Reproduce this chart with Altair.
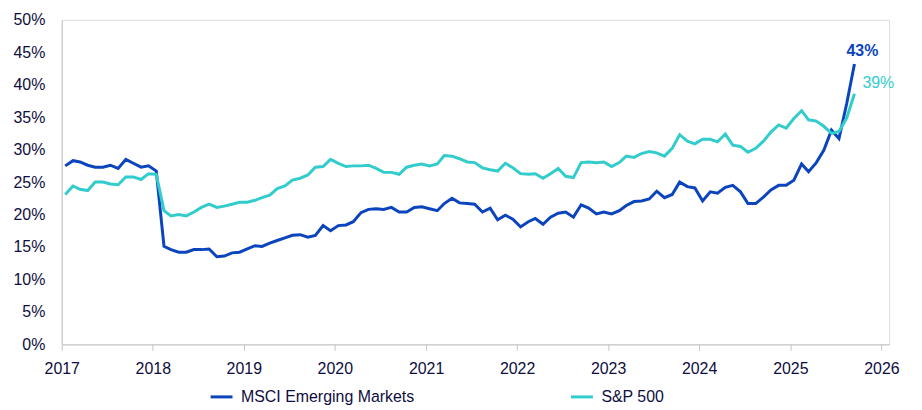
import altair as alt
import pandas as pd

# Monthly observations, Jan 2017 - Sep 2025 (mid-month)
months = [f"{2017 + i // 12}-{i % 12 + 1:02d}-15" for i in range(105)]

msci = [
    27.5, 28.3, 28.1, 27.6, 27.3, 27.3, 27.6, 27.1, 28.5, 27.9, 27.3, 27.5,
    26.7, 15.1, 14.6, 14.2, 14.2, 14.6, 14.6, 14.7, 13.5, 13.6, 14.1, 14.2,
    14.7, 15.2, 15.1, 15.6, 16.0, 16.4, 16.8, 16.9, 16.5, 16.8, 18.3, 17.5,
    18.3, 18.4, 18.9, 20.3, 20.8, 20.9, 20.8, 21.1, 20.4, 20.4, 21.1, 21.2,
    20.9, 20.6, 21.7, 22.5, 21.8, 21.7, 21.6, 20.4, 21.0, 19.2, 19.9, 19.3,
    18.1, 18.9, 19.4, 18.5, 19.6, 20.2, 20.4, 19.6, 21.5, 21.0, 20.1, 20.4,
    20.1, 20.6, 21.4, 22.0, 22.1, 22.4, 23.6, 22.6, 23.1, 25.0, 24.3, 24.1,
    22.1, 23.5, 23.3, 24.2, 24.5, 23.5, 21.7, 21.7, 22.7, 23.8, 24.5, 24.5,
    25.3, 27.8, 26.6, 28.0, 29.9, 33.0, 31.7, 37.1, 43.2,
]

spx = [
    23.1, 24.4, 23.9, 23.7, 25.0, 25.0, 24.7, 24.6, 25.8, 25.8, 25.4, 26.3,
    26.2, 20.6, 19.8, 20.0, 19.8, 20.4, 21.1, 21.6, 21.1, 21.3, 21.6, 21.9,
    21.9, 22.2, 22.6, 23.0, 24.0, 24.4, 25.3, 25.6, 26.1, 27.3, 27.4, 28.5,
    27.9, 27.4, 27.5, 27.5, 27.6, 27.1, 26.5, 26.5, 26.2, 27.3, 27.6, 27.8,
    27.5, 27.8, 29.1, 29.0, 28.6, 28.1, 28.0, 27.2, 26.9, 26.7, 27.9, 27.2,
    26.3, 26.2, 26.3, 25.6, 26.3, 27.1, 25.9, 25.7, 28.0, 28.1, 28.0, 28.1,
    27.4, 28.0, 29.0, 28.8, 29.4, 29.7, 29.5, 29.0, 30.2, 32.3, 31.3, 30.9,
    31.6, 31.6, 31.2, 32.4, 30.7, 30.5, 29.6, 30.2, 31.3, 32.7, 33.8, 33.3,
    34.8, 36.0, 34.6, 34.4, 33.6, 32.5, 32.8, 34.9, 38.6,
]

series_names = ["MSCI Emerging Markets", "S&P 500"]
colors = ["#0b44bd", "#33cccc"]
year_ticks = list(range(2017, 2027))
y_ticks = [0, 0.05, 0.1, 0.15, 0.2, 0.25, 0.3, 0.35, 0.4, 0.45, 0.5]

FONT = "Liberation Sans"
TEXT_COLOR = "#0e0e40"
AXIS_GREY = "#c4c4c4"

df = pd.DataFrame({
    "date": months + months,
    "value": [v / 100 for v in msci] + [v / 100 for v in spx],
    "series": [series_names[0]] * len(msci) + [series_names[1]] * len(spx),
})

last_df = pd.DataFrame({
    "date": [months[-1], months[-1]],
    "value": [msci[-1] / 100, spx[-1] / 100],
    "series": series_names,
})

x_enc = alt.X(
    "date:T",
    scale=alt.Scale(
        type="utc",
        domain=[
            alt.DateTime(year=2017, month=1, date=1, utc=True),
            alt.DateTime(year=2026, month=2, date=1, utc=True),
        ],
    ),
    axis=alt.Axis(
        title=None,
        values=[alt.DateTime(year=y, month=1, date=1, utc=True) for y in year_ticks],
        format="%Y",
        grid=False,
        domainColor=AXIS_GREY,
        tickColor=AXIS_GREY,
        tickSize=6,
        labelPadding=10,
        labelFontSize=16,
        labelColor=TEXT_COLOR,
        labelFont=FONT,
        labelOverlap=False,
        labelFlush=False,
        labelBound=False,
    ),
)

y_enc = alt.Y(
    "value:Q",
    scale=alt.Scale(domain=[0, 0.5], nice=False),
    axis=alt.Axis(
        title=None,
        values=y_ticks,
        format=".0%",
        grid=False,
        ticks=False,
        tickSize=0,
        domainColor=AXIS_GREY,
        labelPadding=17,
        labelFontSize=16,
        labelColor=TEXT_COLOR,
        labelFont=FONT,
        labelOverlap=False,
        labelFlush=False,
        labelBound=False,
        labelSeparation=0,
    ),
)

lines = alt.Chart(df).mark_line(strokeWidth=3).encode(
    color=alt.Color(
        "series:N",
        scale=alt.Scale(domain=series_names, range=colors),
        legend=alt.Legend(
            title=None,
            orient="none",
            legendX=148,
            legendY=366,
            direction="horizontal",
            symbolType="stroke",
            symbolSize=484,
            symbolStrokeWidth=3,
            labelFontSize=16,
            labelFont=FONT,
            labelColor=TEXT_COLOR,
            labelOffset=7,
            labelLimit=400,
            columnPadding=150,
            padding=0,
        ),
    ),
    order=alt.Order("date:T"),
)

lab_msci = alt.Chart(last_df).transform_filter(
    alt.datum.series == series_names[0]
).mark_text(
    align="left", baseline="middle", dx=-8, dy=-13,
    fontSize=16, fontWeight="bold", font=FONT, color=colors[0],
).encode(
    text=alt.Text("value:Q", format=".0%"),
)

lab_spx = alt.Chart(last_df).transform_filter(
    alt.datum.series == series_names[1]
).mark_text(
    align="left", baseline="middle", dx=8, dy=-11,
    fontSize=16, font=FONT, color=colors[1],
).encode(
    text=alt.Text("value:Q", format=".0%"),
)

chart = alt.layer(lines, lab_msci, lab_spx).encode(
    x=x_enc, y=y_enc
).properties(
    width=831,
    height=326,
    autosize=alt.AutoSizeParams(type="none"),
    padding={"left": 54, "top": 11, "right": 25, "bottom": 60},
).configure_view(strokeWidth=0).configure(font=FONT)

chart.save("out.html", embed_options={"renderer": "svg", "actions": False})
